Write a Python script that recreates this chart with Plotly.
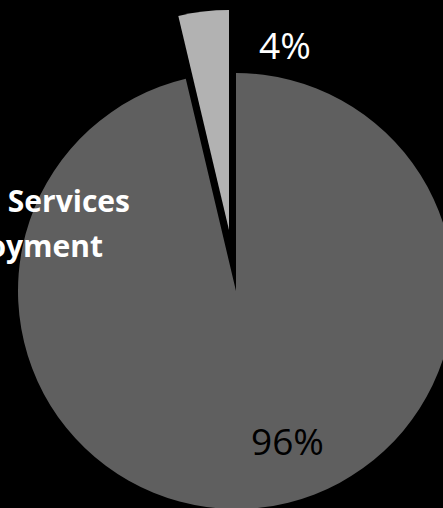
import plotly.graph_objects as go

# Data
categories = ["Other", "Services Employment"]
values = [96.3, 3.7]
label_texts = [f"{round(v)}%" for v in values]

W, H = 460, 515
main_color = "#5f5f5f"
pulled_color = "#b2b2b2"
clear = "rgba(0,0,0,0)"

def dom_x(l, r):
    return [l / W, r / W]

def dom_y(t, b):
    return [1 - b / H, 1 - t / H]

fig = go.Figure()
# main (unexploded) slice
fig.add_trace(go.Pie(
    labels=categories, values=values, sort=False, direction="clockwise",
    rotation=0, marker=dict(colors=[main_color, clear], line=dict(width=0)),
    textinfo="none", hoverinfo="label+percent", showlegend=False,
    domain=dict(x=dom_x(236 - 218, 236 + 218), y=dom_y(291 - 218, 291 + 218)),
))
# exploded slice
fig.add_trace(go.Pie(
    labels=categories, values=values, sort=False, direction="clockwise",
    rotation=0, marker=dict(colors=[clear, pulled_color], line=dict(width=0)),
    textinfo="none", hoverinfo="label+percent", showlegend=False,
    domain=dict(x=dom_x(229 - 220, 229 + 220), y=dom_y(230 - 220, 230 + 220)),
))

fig.add_annotation(x=287 / W, y=1 - 440 / H, xref="paper", yref="paper",
                   xanchor="center", yanchor="middle",
                   text=label_texts[0], showarrow=False,
                   font=dict(family="Open Sans", size=37, color="#000000"))
fig.add_annotation(x=285 / W, y=1 - 45 / H, xref="paper", yref="paper",
                   xanchor="center", yanchor="middle",
                   text=label_texts[1], showarrow=False,
                   font=dict(family="Open Sans", size=37, color="#ffffff"))
fig.add_annotation(x=132 / W, y=1 - 200 / H, xref="paper", yref="paper",
                   xanchor="right", yanchor="middle",
                   text="<b>Financial Services</b>", showarrow=False,
                   font=dict(family="Open Sans", size=30, color="#ffffff"))
fig.add_annotation(x=105 / W, y=1 - 245 / H, xref="paper", yref="paper",
                   xanchor="right", yanchor="middle",
                   text="<b>Employment</b>", showarrow=False,
                   font=dict(family="Open Sans", size=30, color="#ffffff"))

fig.update_layout(
    width=W, height=H, margin=dict(l=0, r=0, t=0, b=0),
    paper_bgcolor="#000000", plot_bgcolor="#000000",
)

fig.write_html(
    "out.html",
    config={"displayModeBar": False},
    post_script="document.body.style.margin='0';document.body.style.overflow='hidden';"
                "document.body.style.background='#000';",
)
